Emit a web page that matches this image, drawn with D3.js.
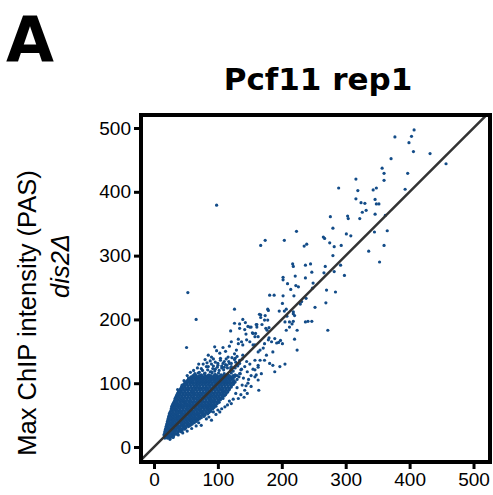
<!DOCTYPE html>
<html>
<head>
<meta charset="utf-8">
<script src="https://cdn.jsdelivr.net/npm/d3@7"></script>
<style>
body { margin: 0; background: #fff; }
</style>
</head>
<body>
<script>
var width = 493;
var height = 495;

// points, [x, y] = [wild type, dis2 delta]
var sparsePoints = [
  [407,497],[377,486],[403,487],[399,477],[406,463],[432,460],[457,444],[371,452],[357,437],[360,429],
  [397,429],[360,418],[316,420],[289,406],[319,402],[348,406],[343,403],[393,404],[316,389],[324,383],
  [330,382],[346,388],[348,381],[352,381],[332,371],[326,368],[322,358],[346,365],[303,362],[304,358],
  [276,361],[362,363],[98,379],
  [223,338],[280,343],[301,334],[308,331],[265,329],[267,327],[275,320],[282,314],[293,316],[280,300],
  [336,307],[360,316],[365,339],[345,337],[353,290],[174,324],[167,316],[204,324],[239,318],[235,315],
  [217,287],[218,283],[237,285],[245,287],[247,274],[268,283],[266,273],[282,275],[292,285],[298,269],
  [202,266],[202,262],[209,256],[222,253],[237,265],[249,257],[181,238],[188,238],[202,237],[219,237],
  [201,225],[231,228],[229,224],[238,233],[270,246],[284,243],[269,226],[252,219],[204,213],[196,213],
  [179,214],[167,207],[174,206],[173,199],[218,197],[216,193],[212,188],[237,196],[241,197],[247,197],
  [224,183],[272,183],[126,216],[139,200],[53,242],[66,200],[51,156],
  [214,247],[226,251],[248,249],[221,268],[208,205],[218,212],[178,216],[207,216],[218,209],[178,199],
  [150,188],[161,188],[175,186],[205,196],[212,196],[220,206],
  [220,169],[224,152],[205,130],[198,167],[180,171],[184,165],[192,163],[195,164],[177,183],[180,187],
  [154,179],[159,178],[161,192],[169,192],[126,194],[134,193],[120,182],
  [143,195],[134,186],[142,184],[147,189],[152,188],[160,192],[165,208],[167,203],[144,177],[155,178],
  [132,169],[137,165],[145,168],[150,165],[158,173],[163,173],[155,160],[173,162],[179,168],[171,155],
  [166,152],[189,170],[201,162],[186,149],[176,144],[166,136],[173,136],[163,125],[160,113],[163,105],
  [164,89],[186,128],[189,118],[197,126],[207,183],
  [85,144],[98,151],[108,156],[121,165],[132,162],[139,160],[129,152],[116,141],[121,131],[134,136],
  [139,144],[142,126],[158,136],[163,128],[181,131],[158,121],[168,115],[158,110],[147,100],[142,89],
  [132,76],[121,68],[111,63],[103,55],[90,42],[74,34],[59,29],[93,55],[41,87],[54,108],
  [64,115],[74,123],[82,126],[95,157],[103,147],[155,122],[145,134],[163,149],[158,160],
  [112,150],[118,158],[126,146],[104,139],[110,134],[93,138],[100,131],[88,135],[127,139],[131,128],
  [137,122],[146,118],[150,130],[152,112],[148,106],[140,108],[135,115],[120,124],[114,128],[106,124],
  [96,122],[90,118],[144,96],[152,95],[138,97],[130,93],[128,84],[136,82],[141,78],[146,84],
  [124,75],[118,72],[115,66],[106,60],[100,58],[97,51],[86,47],[82,44],[70,38],[66,33],
  [52,25],[45,22],[38,19],[30,15],[25,12],
  [35,70],[32,62],[30,52],[26,45],[37,90],[44,97],[47,104],[52,112],[57,117],[62,120],
  [68,124],[77,130],[70,130],[80,137],[90,141],
  // ragged top of the dense core
  [64,114],[69,116],[74,113],[79,115],[86,113],[91,116],[96,114],[101,116],[105,113],[110,115],
  [115,114],[121,116],[127,113],[134,115],
  [71,117],[76,120],[80,116],[84,121],[88,118],[92,123],[95,119],[99,125],[102,120],[106,127],
  [109,121],[112,129],[115,124],[118,131],[121,126],[124,119],[128,133],[131,127],[136,121],[85,126],
  [90,130],[96,133],[100,128],[104,136],[108,131],[113,138],[117,134],[122,140],[126,137],[130,142],
  [134,131],[138,138],[83,132],[93,127],[110,125],[120,120],[127,124]
];

// the dense core, one row per y level: [y, [x values along that row]]
var coreRows = [
  [14, [17,21,25]],
  [16, [17,19,23,27,30]],
  [18, [16,20,24,28,31]],
  [20, [16,19,23,27,31,35]],
  [22, [17,21,25,29,33,37]],
  [24, [17,20,24,29,33,38,42]],
  [26, [18,22,27,31,35,40,44]],
  [28, [18,21,25,30,34,39,43,48]],
  [30, [19,23,28,32,37,41,46,50]],
  [32, [19,22,27,31,36,40,45,49,54]],
  [34, [20,25,29,34,38,43,47,52,57]],
  [36, [20,23,28,32,37,42,46,51,55,60]],
  [38, [21,26,30,35,40,44,49,53,58,63]],
  [40, [21,24,29,33,38,43,47,52,57,61,66]],
  [42, [22,27,31,36,41,45,50,55,59,64,68]],
  [44, [22,25,30,35,39,44,49,53,58,63,67,71]],
  [46, [23,28,33,37,42,47,51,56,61,65,70,74]],
  [48, [23,26,31,36,40,45,50,55,59,64,69,73,78]],
  [50, [24,29,34,38,43,48,53,57,62,67,71,76,80]],
  [52, [24,27,32,37,42,46,51,56,60,65,70,75,79,84]],
  [54, [25,30,35,40,44,49,54,59,63,68,73,77,82,86]],
  [56, [26,29,34,38,43,48,53,57,62,67,72,76,81,86,89]],
  [58, [27,32,36,41,46,51,55,60,65,70,74,79,84,89]],
  [60, [27,30,35,40,45,50,54,59,64,68,73,78,83,87,92]],
  [62, [28,33,38,43,47,52,57,62,66,71,76,81,85,90,94]],
  [64, [28,31,36,41,46,51,55,60,65,70,74,79,84,88,93,97]],
  [66, [29,34,39,44,49,53,58,63,68,72,77,82,87,91,96]],
  [68, [30,32,37,42,47,51,56,61,66,70,75,80,85,89,94,99]],
  [70, [31,36,41,46,50,55,60,65,70,74,79,84,89,93,98,102]],
  [72, [32,35,40,44,49,54,58,63,68,73,77,82,87,92,96,101]],
  [74, [33,38,43,47,52,57,62,67,71,76,81,86,90,95,100,104]],
  [76, [33,36,41,46,51,56,61,65,70,75,80,85,89,94,99,104,108]],
  [78, [34,39,44,49,54,59,63,68,73,78,83,87,92,97,102,107]],
  [80, [35,38,43,48,53,58,63,68,72,77,82,87,91,96,101,106,110]],
  [82, [36,41,46,51,56,61,65,70,75,80,85,89,94,99,104,108,112]],
  [84, [37,40,45,50,55,60,64,69,74,79,84,88,93,98,103,108,113]],
  [86, [38,43,48,53,58,62,67,72,77,82,87,91,96,101,106,110,115]],
  [88, [39,43,48,53,58,62,67,72,77,82,86,91,96,101,106,111,116]],
  [90, [41,46,51,55,60,65,70,75,80,84,89,94,99,104,108,113,118]],
  [92, [42,45,50,55,60,65,70,74,79,84,89,94,98,103,108,113,118]],
  [94, [43,48,53,58,63,68,72,77,82,87,92,96,101,106,111,116,121]],
  [96, [44,48,53,58,63,67,72,77,82,87,92,97,102,106,111,116,121]],
  [98, [46,51,56,61,66,70,75,80,85,90,95,99,104,109,114,119,124]],
  [100, [48,52,57,62,67,72,77,81,86,91,96,101,106,111,115,120,125]],
  [102, [50,55,60,65,69,74,79,84,89,94,98,103,108,113,118,123,127]],
  [104, [52,57,61,66,71,76,81,86,90,95,100,105,110,114,119,125]],
  [106, [54,59,64,68,73,78,83,88,93,97,102,107,112,117,122,130]],
  [108, [56,61,66,70,75,80,85,90,95,99,104,109,114,119,124]],
  [110, [58,63,68,73,77,82,87,92,97,101,106,111,116,121,126,133]],
  [112, [61,66,71,75,80,84,89,94,99,104,108,113,118,124,130]]
];

var xTicks = [0, 100, 200, 300, 400, 500];
var yTicks = [0, 100, 200, 300, 400, 500];

var titleText = "Pcf11 rep1";
var panelLetter = "A";
var yLabel1 = "Max ChIP intensity (PAS)";
var yLabel2 = "dis2\u0394";

// flatten the rows into points
var corePoints = [];
coreRows.forEach(function(r) {
  r[1].forEach(function(xv) { corePoints.push([xv, r[0]]); });
});
var allPoints = corePoints.concat(sparsePoints);

var svg = d3.select('body').append('svg')
  .attr('width', width)
  .attr('height', height)
  .style('background', '#fff');

var pLeft = 141, pRight = 490, pTop = 115, pBottom = 462;

var x = d3.scaleLinear().domain([-20.3, 525.8]).range([pLeft, pRight]);
var y = d3.scaleLinear().domain([-23.5, 520.4]).range([pBottom, pTop]);

svg.append('defs').append('clipPath').attr('id', 'panel')
  .append('rect')
  .attr('x', pLeft).attr('y', pTop)
  .attr('width', pRight - pLeft).attr('height', pBottom - pTop);

var plot = svg.append('g').attr('clip-path', 'url(#panel)');

plot.selectAll('circle')
  .data(allPoints)
  .enter()
  .append('circle')
  .attr('cx', function(d) { return x(d[0]); })
  .attr('cy', function(d) { return y(d[1]); })
  .attr('r', 1.6)
  .attr('fill', '#134c88');

// y = x reference line
plot.append('line')
  .attr('x1', x(-30)).attr('y1', y(-30))
  .attr('x2', x(530)).attr('y2', y(530))
  .attr('stroke', '#333')
  .attr('stroke-width', 2.5);

// frame
svg.append('rect')
  .attr('x', pLeft).attr('y', pTop)
  .attr('width', pRight - pLeft).attr('height', pBottom - pTop)
  .attr('fill', 'none')
  .attr('stroke', '#000')
  .attr('stroke-width', 4);

// axes
var xAxis = d3.axisBottom(x).tickValues(xTicks).tickSize(5).tickPadding(4);
var yAxis = d3.axisLeft(y).tickValues(yTicks).tickSize(5).tickPadding(3);

var gx = svg.append('g').attr('transform', 'translate(0,' + (pBottom + 2) + ')').call(xAxis);
var gy = svg.append('g').attr('transform', 'translate(' + (pLeft - 2) + ',0)').call(yAxis);

[gx, gy].forEach(function(g) {
  g.select('.domain').remove();
  g.selectAll('.tick line').attr('stroke', '#000').attr('stroke-width', 3);
  g.selectAll('.tick text')
    .attr('fill', '#000')
    .style('font-family', '"Liberation Sans", Arial, sans-serif')
    .style('font-size', '19px');
});

// titles
svg.append('text')
  .attr('x', 6).attr('y', 61)
  .style('font-family', '"DejaVu Sans", Verdana, sans-serif')
  .style('font-weight', 'bold')
  .style('font-size', '62px')
  .text(panelLetter);

svg.append('text')
  .attr('x', 318).attr('y', 90)
  .attr('text-anchor', 'middle')
  .style('font-family', '"DejaVu Sans", Verdana, sans-serif')
  .style('font-weight', 'bold')
  .style('font-size', '31px')
  .text(titleText);

svg.append('text')
  .attr('transform', 'translate(36,313) rotate(-90)')
  .attr('text-anchor', 'middle')
  .style('font-family', '"Liberation Sans", Arial, sans-serif')
  .style('font-size', '25.5px')
  .text(yLabel1);

svg.append('text')
  .attr('transform', 'translate(69,266) rotate(-90)')
  .attr('text-anchor', 'middle')
  .style('font-family', '"Liberation Sans", Arial, sans-serif')
  .style('font-style', 'italic')
  .style('font-size', '25.5px')
  .text(yLabel2);
</script>
</body>
</html>
